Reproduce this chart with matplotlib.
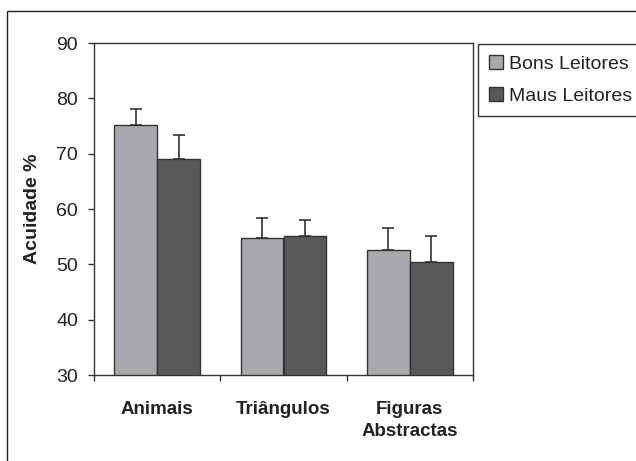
# -*- coding: utf-8 -*-

import numpy
import matplotlib
matplotlib.use('Agg')
import matplotlib.pyplot as plt
import matplotlib.patches as patches

matplotlib.rc('font', family=['Liberation Sans', 'DejaVu Sans'])

categories = ['Animais', 'Triângulos', 'Figuras\nAbstractas']
series_names = ['Bons Leitores', 'Maus Leitores']
bons = [75.1, 54.8, 52.5]
bons_err = [2.9, 3.5, 4.1]
maus = [69.0, 55.1, 50.5]
maus_err = [4.4, 2.9, 4.6]
yticks = [30, 40, 50, 60, 70, 80, 90]

W, H = 636, 461
fig = plt.figure(figsize=(W / 100, H / 100), dpi=100)
ax = fig.add_axes([94 / W, (H - 375) / H, 379 / W, 332 / H])

x = numpy.arange(len(categories))
width = 0.34
edge = '#333333'
ax.bar(x - width / 2, bons, width, color='#a7a9ac', edgecolor=edge, linewidth=1.0,
       label=series_names[0], zorder=2)
ax.bar(x + width / 2, maus, width, color='#58595b', edgecolor=edge, linewidth=1.0,
       label=series_names[1], zorder=2)
ax.errorbar(x - width / 2, bons, yerr=[numpy.zeros(3), bons_err], fmt='none',
            ecolor=edge, elinewidth=1.2, capsize=4, capthick=1.2, zorder=1)
ax.errorbar(x + width / 2, maus, yerr=[numpy.zeros(3), maus_err], fmt='none',
            ecolor=edge, elinewidth=1.2, capsize=4, capthick=1.2, zorder=1)

ax.set_xlim(-0.5, 2.5)
ax.set_ylim(30, 90)
ax.set_yticks(yticks)
ax.tick_params(axis='y', labelsize=14, length=4.5, width=1, color=edge, pad=7,
               labelcolor='#222222')

# category boundaries carry the ticks, names sit in between
ax.set_xticks(numpy.arange(-0.5, 3, 1.0))
ax.set_xticklabels([])
ax.tick_params(axis='x', length=4.5, width=1, color=edge)
for i, name in enumerate(categories):
    ax.text(i, 25.3, name, ha='center', va='top', fontsize=13.5, fontweight='bold',
            linespacing=1.4, color='#222222')

ax.set_ylabel('Acuidade %', fontsize=14, fontweight='bold', color='#222222')
ax.yaxis.set_label_coords(-(94 - 41) / 379, 0.5)
for s in ax.spines.values():
    s.set_color(edge)
    s.set_linewidth(1.0)

leg = fig.legend(loc='upper left', bbox_to_anchor=(478 / W, 1 - 44 / H),
                 fontsize=14, frameon=True, fancybox=False, edgecolor='black',
                 handlelength=0.75, handleheight=0.75, handletextpad=0.3,
                 borderpad=0.55, labelspacing=0.75, borderaxespad=0)
leg.get_frame().set_linewidth(1.0)
for t in leg.get_texts():
    t.set_color('#222222')

border = patches.Rectangle((7 / W, -0.05), 1.0, 1 - 11 / H + 0.05,
                           transform=fig.transFigure, fill=False,
                           edgecolor='#222222', linewidth=1.0)
fig.patches.append(border)

fig.savefig('out.png', dpi=100)
